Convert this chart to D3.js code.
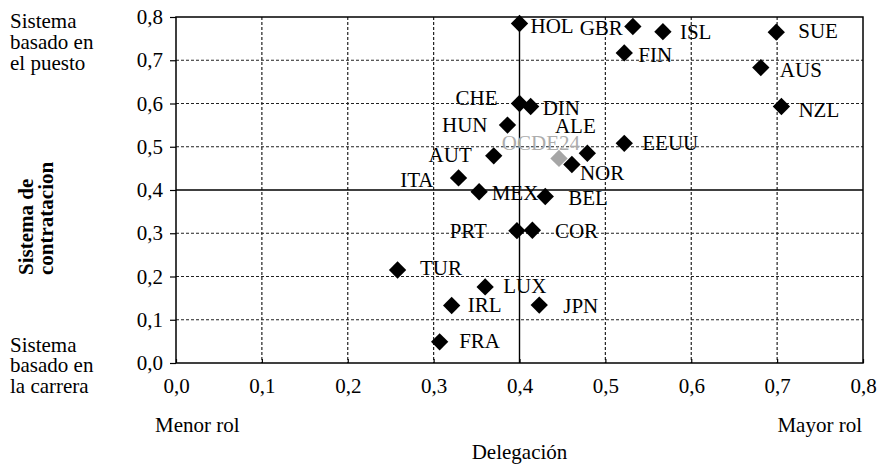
<!DOCTYPE html>
<html>
<head>
<meta charset="utf-8">
<script src="https://cdn.jsdelivr.net/npm/d3@7"></script>
<style>
  html, body { margin: 0; padding: 0; background: #fff; }
  svg { display: block; font-family: "Liberation Serif", "Times New Roman", serif; }
</style>
</head>
<body>
<svg id="chart" width="881" height="466"></svg>
<script>
// ---- data ----
const countries = ["HOL","GBR","ISL","SUE","FIN","AUS","NZL","CHE","DIN","HUN","ALE","EEUU","OCDE24","NOR","AUT","ITA","MEX","BEL","PRT","COR","TUR","LUX","IRL","JPN","FRA"];
const delegacion = [0.400,0.532,0.567,0.699,0.522,0.681,0.705,0.400,0.413,0.386,0.479,0.522,0.446,0.461,0.370,0.329,0.353,0.430,0.397,0.415,0.258,0.360,0.321,0.423,0.307];
const contratacion = [0.785,0.778,0.766,0.765,0.717,0.683,0.593,0.600,0.593,0.550,0.485,0.508,0.473,0.459,0.479,0.428,0.396,0.385,0.306,0.307,0.215,0.176,0.133,0.134,0.049];
const xTicks = [0,0.1,0.2,0.3,0.4,0.5,0.6,0.7,0.8];
const xTickLabels = ["0,0","0,1","0,2","0,3","0,4","0,5","0,6","0,7","0,8"];
const yTicks = [0,0.1,0.2,0.3,0.4,0.5,0.6,0.7,0.8];
const yTickLabels = ["0,0","0,1","0,2","0,3","0,4","0,5","0,6","0,7","0,8"];
const highlight = "OCDE24";

// ---- label placement (layout only) ----
const labelPlace = {
  HOL:[11,9.5,"start"], GBR:[-10,8.5,"end"], ISL:[17,7,"start"], SUE:[22,6,"start"],
  FIN:[14,9,"start"], AUS:[19,9,"start"], NZL:[17,10,"start"], CHE:[-22,1.5,"end"],
  DIN:[12,8.5,"start"], HUN:[-20,6.6,"end"], ALE:[-12,-20,"middle"], EEUU:[18,7,"start"],
  OCDE24:[21,-8.4,"end"], NOR:[8,15.5,"start"], AUT:[-22,6,"end"], ITA:[-25,9,"end"],
  MEX:[12.5,8.3,"start"], BEL:[23,8.5,"start"], PRT:[-30,7.6,"end"], COR:[22.5,8,"start"],
  TUR:[22.5,5,"start"], LUX:[18,6.4,"start"], IRL:[16,7,"start"], JPN:[24,7.7,"start"],
  FRA:[19.5,6.5,"start"]
};

const svg = d3.select("#chart");
const L = 176, R = 863, T = 17, B = 363;
const x = d3.scaleLinear().domain([0, 0.8]).range([L, R]);
const y = d3.scaleLinear().domain([0, 0.8]).range([B, T]);
const fs = 21;

svg.append("rect").attr("width", 881).attr("height", 466).attr("fill", "#fff");

// gridlines
const g = svg.append("g");
xTicks.filter(d => d > 0 && d < 0.8).forEach(d => {
  g.append("line").attr("x1", x(d)).attr("x2", x(d)).attr("y1", T).attr("y2", B)
    .attr("stroke", d === 0.4 ? "#000" : "#222")
    .attr("stroke-width", d === 0.4 ? 1.4 : 1.2)
    .attr("stroke-dasharray", d === 0.4 ? null : "3,2");
});
yTicks.filter(d => d > 0 && d < 0.8).forEach(d => {
  g.append("line").attr("y1", y(d)).attr("y2", y(d)).attr("x1", L).attr("x2", R)
    .attr("stroke", d === 0.4 ? "#000" : "#222")
    .attr("stroke-width", d === 0.4 ? 1.4 : 1.2)
    .attr("stroke-dasharray", d === 0.4 ? null : "3,2");
});

// axes
const xAxis = svg.append("g").attr("transform", `translate(0,${B})`)
  .call(d3.axisBottom(x).tickValues(xTicks).tickFormat((d, i) => xTickLabels[i]).tickSize(-4).tickPadding(0));
xAxis.select(".domain").remove();
xAxis.selectAll("line").attr("stroke", "#000").attr("stroke-width", 1.2);
xAxis.selectAll("text").attr("y", 30).attr("dy", 0).attr("font-size", fs)
  .attr("font-family", "Liberation Serif, Times New Roman, serif").attr("fill", "#000");

const yAxis = svg.append("g").attr("transform", `translate(${L},0)`)
  .call(d3.axisLeft(y).tickValues(yTicks).tickFormat((d, i) => yTickLabels[i]).tickSize(6).tickPadding(0));
yAxis.select(".domain").remove();
yAxis.selectAll("line").attr("stroke", "#000").attr("stroke-width", 1.2);
yAxis.selectAll("text").attr("x", -13).attr("dy", "0.32em").attr("font-size", fs)
  .attr("font-family", "Liberation Serif, Times New Roman, serif").attr("fill", "#000");

// border
svg.append("rect").attr("x", L).attr("y", T).attr("width", R - L).attr("height", B - T)
  .attr("fill", "none").attr("stroke", "#000").attr("stroke-width", 1.5);

// points
const data = countries.map((c, i) => ({ c, x: delegacion[i], y: contratacion[i] }));
const sym = d3.symbol().type(d3.symbolSquare).size(150);
svg.append("g").selectAll("path").data(data).join("path")
  .attr("d", sym)
  .attr("transform", d => `translate(${x(d.x)},${y(d.y)}) rotate(45)`)
  .attr("fill", d => d.c === highlight ? "#a6a6a6" : "#000");

// labels
svg.append("g").selectAll("text").data(data).join("text")
  .attr("x", d => x(d.x) + labelPlace[d.c][0])
  .attr("y", d => y(d.y) + labelPlace[d.c][1])
  .attr("text-anchor", d => labelPlace[d.c][2])
  .attr("font-size", fs)
  .attr("fill", d => d.c === highlight ? "#acacac" : "#000")
  .text(d => d.c);

// side annotations
const txt = (s, xx, yy, opts = {}) => svg.append("text").attr("x", xx).attr("y", yy)
  .attr("font-size", fs).attr("fill", "#000").attr("text-anchor", opts.anchor || "start")
  .attr("font-weight", opts.bold ? "bold" : null).text(s);

txt("Sistema", 10, 28); txt("basado en", 10, 49); txt("el puesto", 10, 70);
txt("Sistema", 10, 352); txt("basado en", 10, 372); txt("la carrera", 10, 393);
txt("Menor rol", 155, 432); txt("Mayor rol", 862, 432, { anchor: "end" });
txt("Delegación", (L + R) / 2, 459, { anchor: "middle" });

svg.append("text").attr("transform", "translate(33,275) rotate(-90)")
  .attr("font-size", fs).attr("font-weight", "bold").text("Sistema de");
svg.append("text").attr("transform", "translate(53,275) rotate(-90)")
  .attr("font-size", fs).attr("font-weight", "bold").text("contratacion");
</script>
</body>
</html>
